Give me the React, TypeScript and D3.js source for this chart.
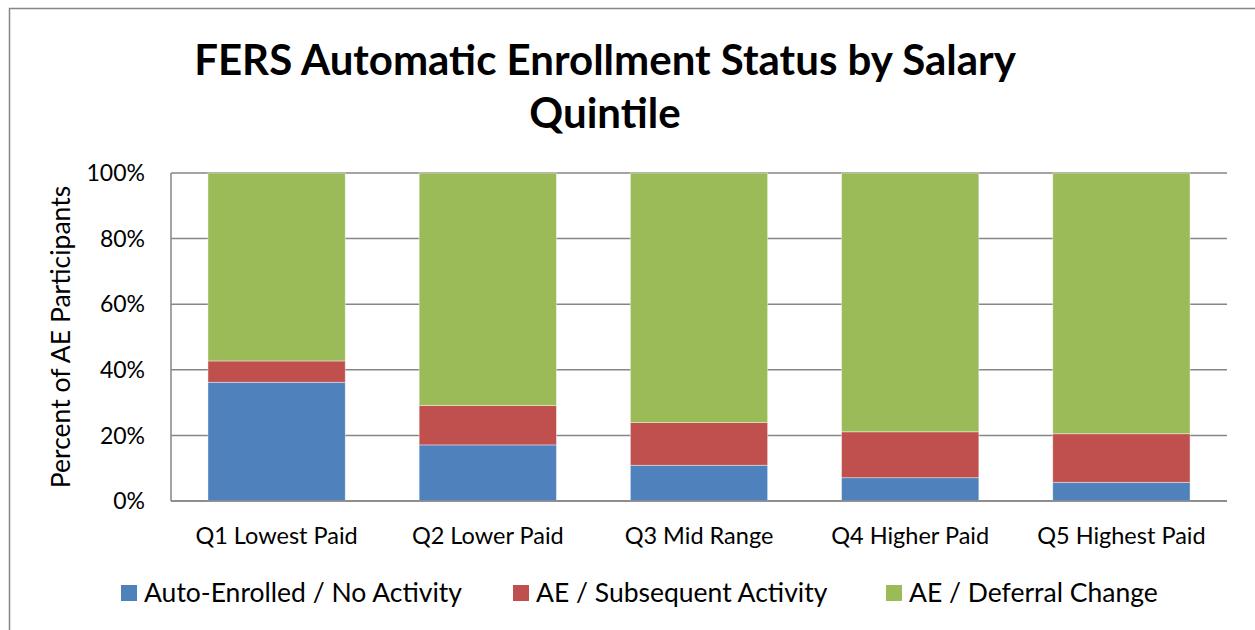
import React from 'react'
import * as d3 from 'd3'

const categories = ['Q1 Lowest Paid', 'Q2 Lower Paid', 'Q3 Mid Range', 'Q4 Higher Paid', 'Q5 Highest Paid']
const seriesNames = ['Auto-Enrolled / No Activity', 'AE / Subsequent Activity', 'AE / Deferral Change']
const noActivity = [36.2, 17.1, 10.9, 7.1, 5.7]
const subsequent = [6.5, 12.0, 13.0, 14.0, 14.8]
const deferral = [57.3, 70.9, 76.1, 78.9, 79.5]
const yTicks = [0, 20, 40, 60, 80, 100]
const colors = ['#4f81bd', '#c0504d', '#9bbb59']

const W = 1255
const H = 630
const FONT = 'Lato, "Open Sans", sans-serif'

export default function App () {
  const plot = { left: 171, right: 1227, top: 173, bottom: 501 }

  const rows = categories.map((c, i) => ({
    cat: c,
    s0: noActivity[i],
    s1: subsequent[i],
    s2: deferral[i]
  }))
  const stacked = d3.stack<any>().keys(['s0', 's1', 's2'])(rows)

  const x = d3.scaleBand().domain(categories).range([plot.left, plot.right]).paddingInner(0.35).paddingOuter(0.175)
  const y = d3.scaleLinear().domain([0, 100]).range([plot.bottom, plot.top])

  // legend swatch left edges
  const legendX = [121, 513, 886]

  return (
    <div style={{ position: 'absolute', left: 0, top: 0 }}>
      <svg width={W} height={H} style={{ display: 'block', fontFamily: FONT }}>
        <rect x={0} y={0} width={W} height={H} fill='#fff' />
        <rect x={9.5} y={8.5} width={W + 20} height={H + 20} fill='none' stroke='#868686' strokeWidth={1.5} />

        <text x={605} y={75} textAnchor='middle' fontSize={42} fontWeight={700} fill='#000'>FERS Automatic Enrollment Status by Salary</text>
        <text x={605} y={128} textAnchor='middle' fontSize={42} fontWeight={700} fill='#000'>Quintile</text>

        {yTicks.map(t => (
          <g key={t}>
            <line x1={plot.left} x2={plot.right} y1={y(t)} y2={y(t)} stroke='#868686' strokeWidth={1.5} />
            <text x={145} y={y(t)} dy='0.36em' textAnchor='end' fontSize={23} fill='#000'>{t + '%'}</text>
          </g>
        ))}
        <line x1={plot.left} x2={plot.left} y1={plot.top} y2={plot.bottom} stroke='#868686' strokeWidth={1.5} />

        {stacked.map((layer, k) => (
          <g key={k} fill={colors[k]}>
            {layer.map((d, i) => (
              <rect
                key={i}
                x={x(categories[i])}
                width={x.bandwidth()}
                y={y(d[1])}
                height={y(d[0]) - y(d[1])}
                stroke='#ffffff'
                strokeOpacity={0.5}
                strokeWidth={0.8}
              />
            ))}
          </g>
        ))}
        <line x1={plot.left} x2={plot.right} y1={plot.bottom} y2={plot.bottom} stroke='#868686' strokeWidth={1.5} />

        {categories.map(c => (
          <text key={c} x={(x(c) || 0) + x.bandwidth() / 2} y={544} textAnchor='middle' fontSize={23.5} fill='#000'>{c}</text>
        ))}

        <text transform={`translate(70,337) rotate(-90)`} textAnchor='middle' fontSize={26.5} fill='#000'>Percent of AE Participants</text>

        {seriesNames.map((s, i) => (
          <g key={s}>
            <rect x={legendX[i]} y={585} width={16} height={16} fill={colors[i]} />
            <text x={legendX[i] + 23} y={602} fontSize={26.5} fill='#000'>{s}</text>
          </g>
        ))}
      </svg>
    </div>
  )
}
